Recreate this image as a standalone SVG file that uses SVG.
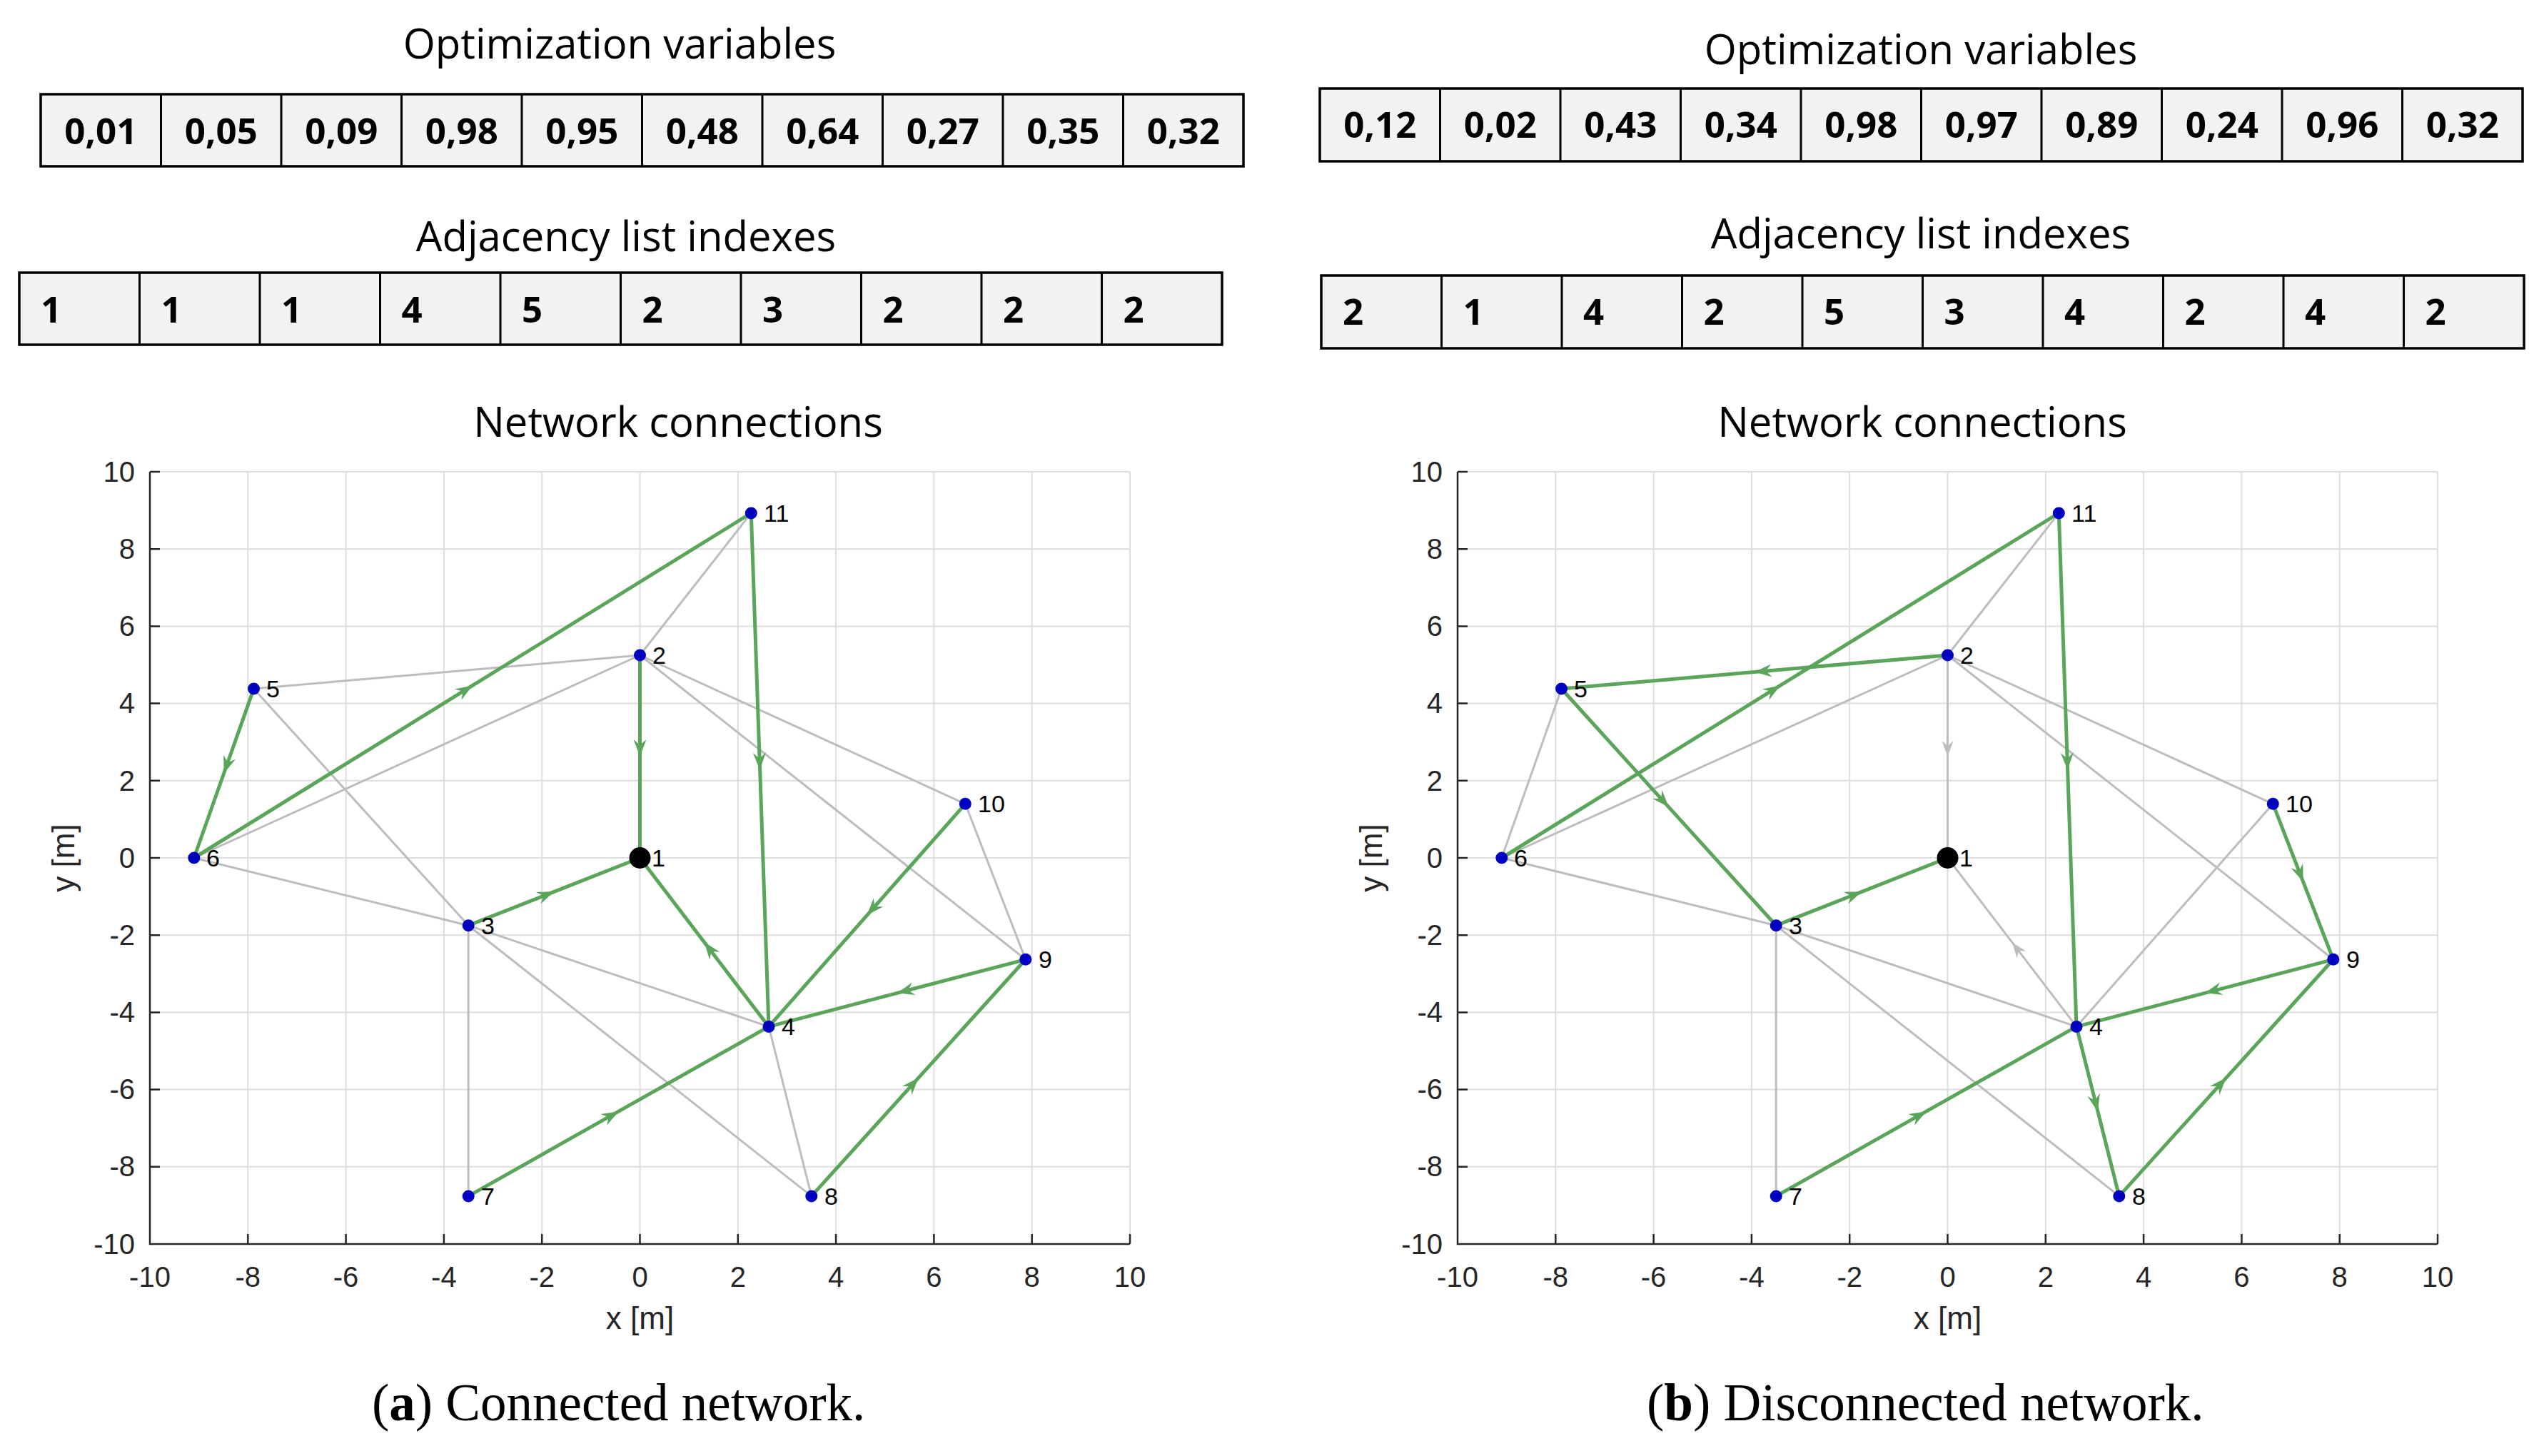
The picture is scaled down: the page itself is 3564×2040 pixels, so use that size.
<svg xmlns="http://www.w3.org/2000/svg" xmlns:xlink="http://www.w3.org/1999/xlink" width="3564" height="2040" viewBox="0 0 3564 2040">
<style>
.title{font-family:"Open Sans","Liberation Sans",sans-serif;font-size:58px;fill:#000;text-anchor:middle}
.cellv{font-family:"Open Sans","Liberation Sans",sans-serif;font-weight:700;font-size:51px;fill:#000;text-anchor:middle}
.celli{font-family:"Open Sans","Liberation Sans",sans-serif;font-weight:700;font-size:51px;fill:#000}
.tbl{fill:#f2f2f2;stroke:#000;stroke-width:3.5}
.sep{stroke:#000;stroke-width:3;fill:none}
.grid{stroke:#dedede;stroke-width:2;fill:none}
.axis{stroke:#262626;stroke-width:2.5;fill:none}
.tick{font-family:"Liberation Sans",Arial,sans-serif;font-size:40px;fill:#262626}
.alab{font-family:"Liberation Sans",Arial,sans-serif;font-size:44px;fill:#262626;text-anchor:middle}
.nl{font-family:"Liberation Sans",Arial,sans-serif;font-size:34px;fill:#000}
.nd{fill:#0000c0}
.g{stroke:#bdbdbd;stroke-width:3;fill:none}
.ga{stroke:#bdbdbd;stroke-width:3;fill:none;marker-mid:url(#arrGray)}
.gr{stroke:#5aa55a;stroke-width:5;fill:none;marker-mid:url(#arrGreen)}
.cap{font-family:"Liberation Serif","Times New Roman",serif;font-size:73px;fill:#000}
</style>
<defs>
<marker id="arrGreen" markerUnits="userSpaceOnUse" markerWidth="40" markerHeight="40" refX="0" refY="0" viewBox="-30 -15 40 30" orient="auto">
<path d="M0,0 L-24,-9 L-16,0 L-24,9 Z" fill="#5aa55a"/>
</marker>
<marker id="arrGray" markerUnits="userSpaceOnUse" markerWidth="40" markerHeight="40" refX="0" refY="0" viewBox="-30 -15 40 30" orient="auto">
<path d="M0,0 L-22,-8 L-15,0 L-22,8 Z" fill="#bdbdbd"/>
</marker>
<g id="axes">
<path class="grid" d="M347.3,661V1743M484.6,661V1743M621.9,661V1743M759.2,661V1743M896.5,661V1743M1033.8,661V1743M1171.1,661V1743M1308.4,661V1743M1445.7,661V1743M1583,661V1743M210,661H1583M210,769.2H1583M210,877.4H1583M210,985.6H1583M210,1093.8H1583M210,1202H1583M210,1310.2H1583M210,1418.4H1583M210,1526.6H1583M210,1634.8H1583"/>
<path class="axis" d="M210,661V1743H1583M210,661h14M210,769.2h14M210,877.4h14M210,985.6h14M210,1093.8h14M210,1202h14M210,1310.2h14M210,1418.4h14M210,1526.6h14M210,1634.8h14M347.3,1743v-14M484.6,1743v-14M621.9,1743v-14M759.2,1743v-14M896.5,1743v-14M1033.8,1743v-14M1171.1,1743v-14M1308.4,1743v-14M1445.7,1743v-14M1583,1743v-14"/>
<g class="tick" text-anchor="end">
<text x="189" y="675">10</text><text x="189" y="783">8</text><text x="189" y="891">6</text><text x="189" y="999">4</text><text x="189" y="1108">2</text><text x="189" y="1216">0</text><text x="189" y="1324">-2</text><text x="189" y="1432">-4</text><text x="189" y="1540">-6</text><text x="189" y="1648">-8</text><text x="189" y="1757">-10</text>
</g>
<g class="tick" text-anchor="middle">
<text x="210" y="1803">-10</text><text x="347.3" y="1803">-8</text><text x="484.6" y="1803">-6</text><text x="621.9" y="1803">-4</text><text x="759.2" y="1803">-2</text><text x="896.5" y="1803">0</text><text x="1033.8" y="1803">2</text><text x="1171.1" y="1803">4</text><text x="1308.4" y="1803">6</text><text x="1445.7" y="1803">8</text><text x="1583" y="1803">10</text>
</g>
<text class="alab" x="896.5" y="1862">x [m]</text>
<text class="alab" transform="translate(104,1202) rotate(-90)">y [m]</text>
</g>
</defs>
<rect width="3564" height="2040" fill="#fff"/>

<!-- Titles -->
<text class="title" x="868" y="82">Optimization variables</text>
<text class="title" x="2691" y="90">Optimization variables</text>
<text class="title" x="877" y="352">Adjacency list indexes</text>
<text class="title" x="2691" y="348">Adjacency list indexes</text>
<text class="title" x="950" y="612">Network connections</text>
<text class="title" x="2693" y="612">Network connections</text>

<!-- Tables -->
<g id="table-a-vars">
<rect class="tbl" x="57" y="132" width="1685" height="101"/>
<path class="sep" d="M225.5,132V233M394,132V233M562.5,132V233M731,132V233M899.5,132V233M1068,132V233M1236.5,132V233M1405,132V233M1573.5,132V233"/>
<text class="cellv" x="141.3" y="202">0,01</text><text class="cellv" x="309.8" y="202">0,05</text><text class="cellv" x="478.3" y="202">0,09</text><text class="cellv" x="646.8" y="202">0,98</text><text class="cellv" x="815.3" y="202">0,95</text><text class="cellv" x="983.8" y="202">0,48</text><text class="cellv" x="1152.3" y="202">0,64</text><text class="cellv" x="1320.8" y="202">0,27</text><text class="cellv" x="1489.3" y="202">0,35</text><text class="cellv" x="1657.8" y="202">0,32</text>
</g>
<g id="table-a-idx">
<rect class="tbl" x="27" y="382" width="1685" height="101"/>
<path class="sep" d="M195.5,382V483M364,382V483M532.5,382V483M701,382V483M869.5,382V483M1038,382V483M1206.5,382V483M1375,382V483M1543.5,382V483"/>
<text class="celli" x="57" y="452">1</text><text class="celli" x="225.5" y="452">1</text><text class="celli" x="394" y="452">1</text><text class="celli" x="562.5" y="452">4</text><text class="celli" x="731" y="452">5</text><text class="celli" x="899.5" y="452">2</text><text class="celli" x="1068" y="452">3</text><text class="celli" x="1236.5" y="452">2</text><text class="celli" x="1405" y="452">2</text><text class="celli" x="1573.5" y="452">2</text>
</g>
<g id="table-b-vars">
<rect class="tbl" x="1849" y="124" width="1685" height="102"/>
<path class="sep" d="M2017.5,124V226M2186,124V226M2354.5,124V226M2523,124V226M2691.5,124V226M2860,124V226M3028.5,124V226M3197,124V226M3365.5,124V226"/>
<text class="cellv" x="1933.3" y="193">0,12</text><text class="cellv" x="2101.8" y="193">0,02</text><text class="cellv" x="2270.3" y="193">0,43</text><text class="cellv" x="2438.8" y="193">0,34</text><text class="cellv" x="2607.3" y="193">0,98</text><text class="cellv" x="2775.8" y="193">0,97</text><text class="cellv" x="2944.3" y="193">0,89</text><text class="cellv" x="3112.8" y="193">0,24</text><text class="cellv" x="3281.3" y="193">0,96</text><text class="cellv" x="3449.8" y="193">0,32</text>
</g>
<g id="table-b-idx">
<rect class="tbl" x="1851" y="386" width="1685" height="102"/>
<path class="sep" d="M2019.5,386V488M2188,386V488M2356.5,386V488M2525,386V488M2693.5,386V488M2862,386V488M3030.5,386V488M3199,386V488M3367.5,386V488"/>
<text class="celli" x="1881" y="455">2</text><text class="celli" x="2049.5" y="455">1</text><text class="celli" x="2218" y="455">4</text><text class="celli" x="2386.5" y="455">2</text><text class="celli" x="2555" y="455">5</text><text class="celli" x="2723.5" y="455">3</text><text class="celli" x="2892" y="455">4</text><text class="celli" x="3060.5" y="455">2</text><text class="celli" x="3229" y="455">4</text><text class="celli" x="3397.5" y="455">2</text>
</g>

<!-- Axes -->
<use xlink:href="#axes" href="#axes"/>
<use xlink:href="#axes" href="#axes" x="1832"/>

<!-- Connectors (a) -->
<g id="edges-a">
<path class="g" d="M896.5,918L1052.3,718.9"/>
<path class="g" d="M896.5,918L355.5,965"/>
<path class="g" d="M896.5,918L271.8,1202"/>
<path class="g" d="M896.5,918L1352.3,1126.3"/>
<path class="g" d="M896.5,918L1436.8,1344.3"/>
<path class="g" d="M355.5,965L656.2,1296.7"/>
<path class="g" d="M271.8,1202L656.2,1296.7"/>
<path class="g" d="M656.2,1296.7L656.2,1675.9"/>
<path class="g" d="M656.2,1296.7L1077,1438.4"/>
<path class="g" d="M656.2,1296.7L1136.8,1675.9"/>
<path class="g" d="M1077,1438.4L1136.8,1675.9"/>
<path class="g" d="M1352.3,1126.3L1436.8,1344.3"/>
<path class="gr" d="M896.5,918L896.5,1060L896.5,1202"/>
<path class="gr" d="M656.2,1296.7L776.35,1249.35L896.5,1202"/>
<path class="gr" d="M1077,1438.4L986.75,1320.2L896.5,1202"/>
<path class="gr" d="M355.5,965L313.65,1083.5L271.8,1202"/>
<path class="gr" d="M271.8,1202L662.05,960.45L1052.3,718.9"/>
<path class="gr" d="M1052.3,718.9L1064.65,1078.65L1077,1438.4"/>
<path class="gr" d="M1352.3,1126.3L1214.65,1282.35L1077,1438.4"/>
<path class="gr" d="M1436.8,1344.3L1256.9,1391.35L1077,1438.4"/>
<path class="gr" d="M656.2,1675.9L866.6,1557.15L1077,1438.4"/>
<path class="gr" d="M1136.8,1675.9L1286.8,1510.1L1436.8,1344.3"/>
</g>

<!-- Connectors (b) -->
<g id="edges-b">
<path class="g" d="M2728.5,918L2884.3,718.9"/>
<path class="g" d="M2728.5,918L2103.8,1202"/>
<path class="g" d="M2728.5,918L3184.3,1126.3"/>
<path class="g" d="M2728.5,918L3268.8,1344.3"/>
<path class="g" d="M2187.5,965L2103.8,1202"/>
<path class="g" d="M2103.8,1202L2488.2,1296.7"/>
<path class="g" d="M2488.2,1296.7L2488.2,1675.9"/>
<path class="g" d="M2488.2,1296.7L2909,1438.4"/>
<path class="g" d="M2488.2,1296.7L2968.8,1675.9"/>
<path class="g" d="M3184.3,1126.3L2909,1438.4"/>
<path class="ga" d="M2728.5,918L2728.5,1060L2728.5,1202"/>
<path class="ga" d="M2909,1438.4L2818.75,1320.2L2728.5,1202"/>
<path class="gr" d="M2488.2,1296.7L2608.35,1249.35L2728.5,1202"/>
<path class="gr" d="M2728.5,918L2458,941.5L2187.5,965"/>
<path class="gr" d="M2187.5,965L2337.85,1130.85L2488.2,1296.7"/>
<path class="gr" d="M2103.8,1202L2494.05,960.45L2884.3,718.9"/>
<path class="gr" d="M2884.3,718.9L2896.65,1078.65L2909,1438.4"/>
<path class="gr" d="M3184.3,1126.3L3226.55,1235.3L3268.8,1344.3"/>
<path class="gr" d="M3268.8,1344.3L3088.9,1391.35L2909,1438.4"/>
<path class="gr" d="M2909,1438.4L2938.9,1557.15L2968.8,1675.9"/>
<path class="gr" d="M2968.8,1675.9L3118.8,1510.1L3268.8,1344.3"/>
<path class="gr" d="M2488.2,1675.9L2698.6,1557.15L2909,1438.4"/>
</g>

<!-- Nodes (a) -->
<g id="a-n1"><circle cx="896.5" cy="1202" r="15" fill="#000"/><text class="nl" x="913" y="1214">1</text></g>
<g id="a-n2"><circle class="nd" cx="896.5" cy="918" r="8.5"/><text class="nl" x="914" y="930">2</text></g>
<g id="a-n3"><circle class="nd" cx="656.2" cy="1296.7" r="8.5"/><text class="nl" x="674" y="1309">3</text></g>
<g id="a-n4"><circle class="nd" cx="1077" cy="1438.4" r="8.5"/><text class="nl" x="1095" y="1450">4</text></g>
<g id="a-n5"><circle class="nd" cx="355.5" cy="965" r="8.5"/><text class="nl" x="373" y="977">5</text></g>
<g id="a-n6"><circle class="nd" cx="271.8" cy="1202" r="8.5"/><text class="nl" x="289" y="1214">6</text></g>
<g id="a-n7"><circle class="nd" cx="656.2" cy="1675.9" r="8.5"/><text class="nl" x="674" y="1688">7</text></g>
<g id="a-n8"><circle class="nd" cx="1136.8" cy="1675.9" r="8.5"/><text class="nl" x="1155" y="1688">8</text></g>
<g id="a-n9"><circle class="nd" cx="1436.8" cy="1344.3" r="8.5"/><text class="nl" x="1455" y="1356">9</text></g>
<g id="a-n10"><circle class="nd" cx="1352.3" cy="1126.3" r="8.5"/><text class="nl" x="1370" y="1138">10</text></g>
<g id="a-n11"><circle class="nd" cx="1052.3" cy="718.9" r="8.5"/><text class="nl" x="1070" y="731">11</text></g>

<!-- Nodes (b) -->
<g id="b-n1"><circle cx="2728.5" cy="1202" r="15" fill="#000"/><text class="nl" x="2745" y="1214">1</text></g>
<g id="b-n2"><circle class="nd" cx="2728.5" cy="918" r="8.5"/><text class="nl" x="2746" y="930">2</text></g>
<g id="b-n3"><circle class="nd" cx="2488.2" cy="1296.7" r="8.5"/><text class="nl" x="2506" y="1309">3</text></g>
<g id="b-n4"><circle class="nd" cx="2909" cy="1438.4" r="8.5"/><text class="nl" x="2927" y="1450">4</text></g>
<g id="b-n5"><circle class="nd" cx="2187.5" cy="965" r="8.5"/><text class="nl" x="2205" y="977">5</text></g>
<g id="b-n6"><circle class="nd" cx="2103.8" cy="1202" r="8.5"/><text class="nl" x="2121" y="1214">6</text></g>
<g id="b-n7"><circle class="nd" cx="2488.2" cy="1675.9" r="8.5"/><text class="nl" x="2506" y="1688">7</text></g>
<g id="b-n8"><circle class="nd" cx="2968.8" cy="1675.9" r="8.5"/><text class="nl" x="2987" y="1688">8</text></g>
<g id="b-n9"><circle class="nd" cx="3268.8" cy="1344.3" r="8.5"/><text class="nl" x="3287" y="1356">9</text></g>
<g id="b-n10"><circle class="nd" cx="3184.3" cy="1126.3" r="8.5"/><text class="nl" x="3202" y="1138">10</text></g>
<g id="b-n11"><circle class="nd" cx="2884.3" cy="718.9" r="8.5"/><text class="nl" x="2902" y="731">11</text></g>

<!-- Captions -->
<text class="cap" x="521" y="1990">(<tspan font-weight="700">a</tspan>) Connected network.</text>
<text class="cap" x="2307" y="1990">(<tspan font-weight="700">b</tspan>) Disconnected network.</text>
</svg>
